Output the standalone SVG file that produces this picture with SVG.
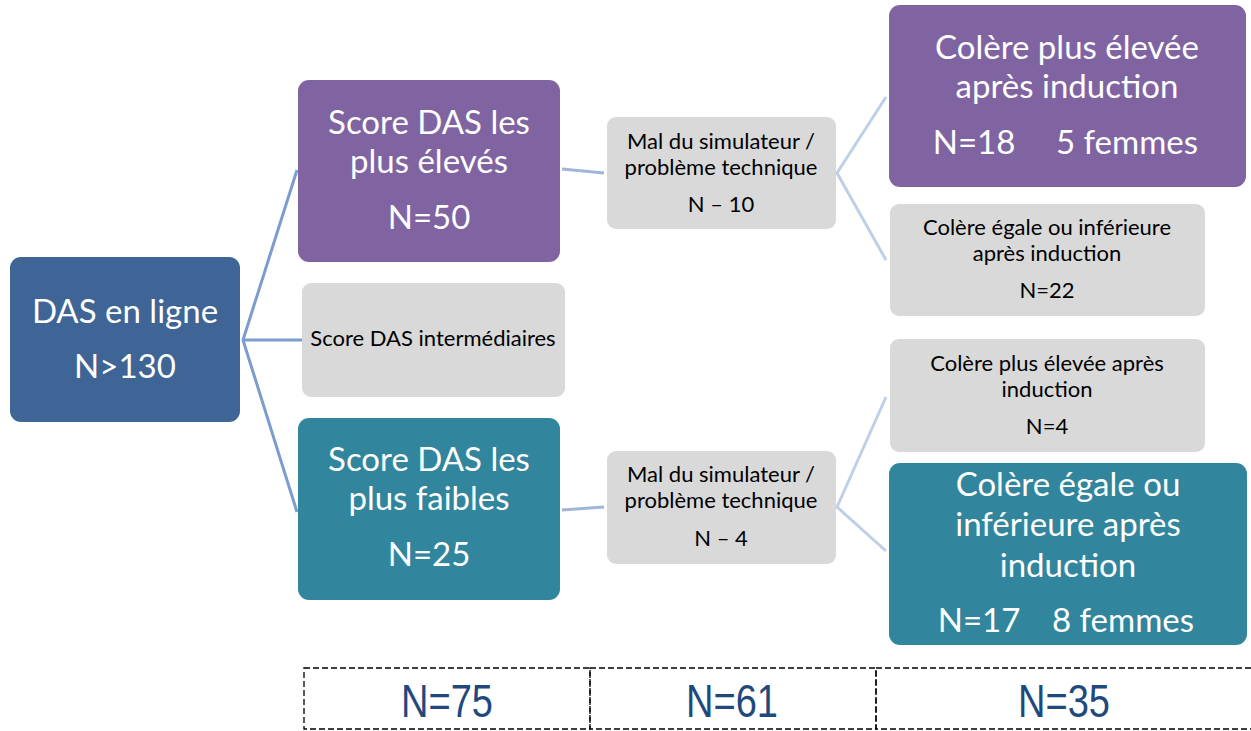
<svg xmlns="http://www.w3.org/2000/svg" width="1251" height="731" viewBox="0 0 1251 731">
<style>
.big{font-family:Lato,"Liberation Sans",sans-serif;font-size:33px;fill:#fff;text-anchor:middle}
.sm{font-family:Lato,"Liberation Sans",sans-serif;font-size:22px;fill:#000;text-anchor:middle}
.tot{font-family:"Liberation Sans",Arial,sans-serif;font-size:47px;fill:#1F497D;text-anchor:middle}
.c1{stroke:#7C9CD0;stroke-width:3;fill:none}
.c2{stroke:#9FB5D9;stroke-width:3;fill:none}
.c3{stroke:#BFCFE8;stroke-width:3;fill:none}
.dash{fill:none;stroke:#000;stroke-width:1.3;stroke-dasharray:6,3}
</style>
<rect width="1251" height="731" fill="#fff"/>
<g id="connectors">
<polyline class="c1" points="297,170 243,340 297,512"/>
<line class="c1" x1="243" y1="340" x2="302" y2="340"/>
<line class="c2" x1="562" y1="169" x2="604" y2="173"/>
<line class="c2" x1="562" y1="510" x2="604" y2="507"/>
<polyline class="c3" points="886,97 837,173 886,260"/>
<polyline class="c3" points="886,397 837,507 886,551"/>
</g>
<g id="root">
<rect x="10" y="257" width="230" height="165" rx="11" fill="#3E6595"/>
<text class="big" x="125" y="323">DAS en ligne</text>
<text class="big" x="125" y="378">N&gt;130</text>
</g>
<g id="high">
<rect x="298" y="80" width="262" height="182" rx="11" fill="#8064A2"/>
<text class="big" x="429" y="134">Score DAS les</text>
<text class="big" x="429" y="173">plus élevés</text>
<text class="big" x="429" y="229">N=50</text>
</g>
<g id="mid">
<rect x="302" y="283" width="263" height="114" rx="9" fill="#D9D9D9"/>
<text class="sm" x="433" y="346">Score DAS intermédiaires</text>
</g>
<g id="low">
<rect x="298" y="418" width="262" height="182" rx="11" fill="#31859C"/>
<text class="big" x="429" y="471">Score DAS les</text>
<text class="big" x="429" y="510">plus faibles</text>
<text class="big" x="429" y="566">N=25</text>
</g>
<g id="sim1">
<rect x="607" y="117" width="229" height="112" rx="9" fill="#D9D9D9"/>
<text class="sm" x="721" y="149">Mal du simulateur /</text>
<text class="sm" x="721" y="175">problème technique</text>
<text class="sm" x="721" y="212">N – 10</text>
</g>
<g id="sim2">
<rect x="607" y="451" width="229" height="113" rx="9" fill="#D9D9D9"/>
<text class="sm" x="721" y="482">Mal du simulateur /</text>
<text class="sm" x="721" y="508">problème technique</text>
<text class="sm" x="721" y="546">N – 4</text>
</g>
<g id="h-up">
<rect x="889" y="5" width="357" height="182" rx="11" fill="#8064A2"/>
<text class="big" x="1067" y="59">Colère plus élevée</text>
<text class="big" x="1067" y="98">après induction</text>
<text class="big" x="974" y="154">N=18</text>
<text class="big" x="1127" y="154">5 femmes</text>
</g>
<g id="h-down">
<rect x="890" y="204" width="315" height="112" rx="9" fill="#D9D9D9"/>
<text class="sm" x="1047" y="235">Colère égale ou inférieure</text>
<text class="sm" x="1047" y="261">après induction</text>
<text class="sm" x="1047" y="298">N=22</text>
</g>
<g id="l-up">
<rect x="890" y="339" width="315" height="113" rx="9" fill="#D9D9D9"/>
<text class="sm" x="1047" y="371">Colère plus élevée après</text>
<text class="sm" x="1047" y="397">induction</text>
<text class="sm" x="1047" y="434">N=4</text>
</g>
<g id="l-down">
<rect x="889" y="463" width="358" height="182" rx="11" fill="#31859C"/>
<text class="big" x="1068" y="496">Colère égale ou</text>
<text class="big" x="1068" y="536">inférieure après</text>
<text class="big" x="1068" y="577">induction</text>
<text class="big" x="979" y="632">N=17</text>
<text class="big" x="1123" y="632">8 femmes</text>
</g>
<g id="totals">
<rect class="dash" x="304" y="668" width="286" height="61"/>
<rect class="dash" x="590" y="668" width="286" height="61"/>
<rect class="dash" x="876" y="668" width="380" height="61"/>
<text class="tot" x="447" y="717" textLength="92" lengthAdjust="spacingAndGlyphs">N=75</text>
<text class="tot" x="732" y="717" textLength="92" lengthAdjust="spacingAndGlyphs">N=61</text>
<text class="tot" x="1064" y="717" textLength="92" lengthAdjust="spacingAndGlyphs">N=35</text>
</g>
</svg>
